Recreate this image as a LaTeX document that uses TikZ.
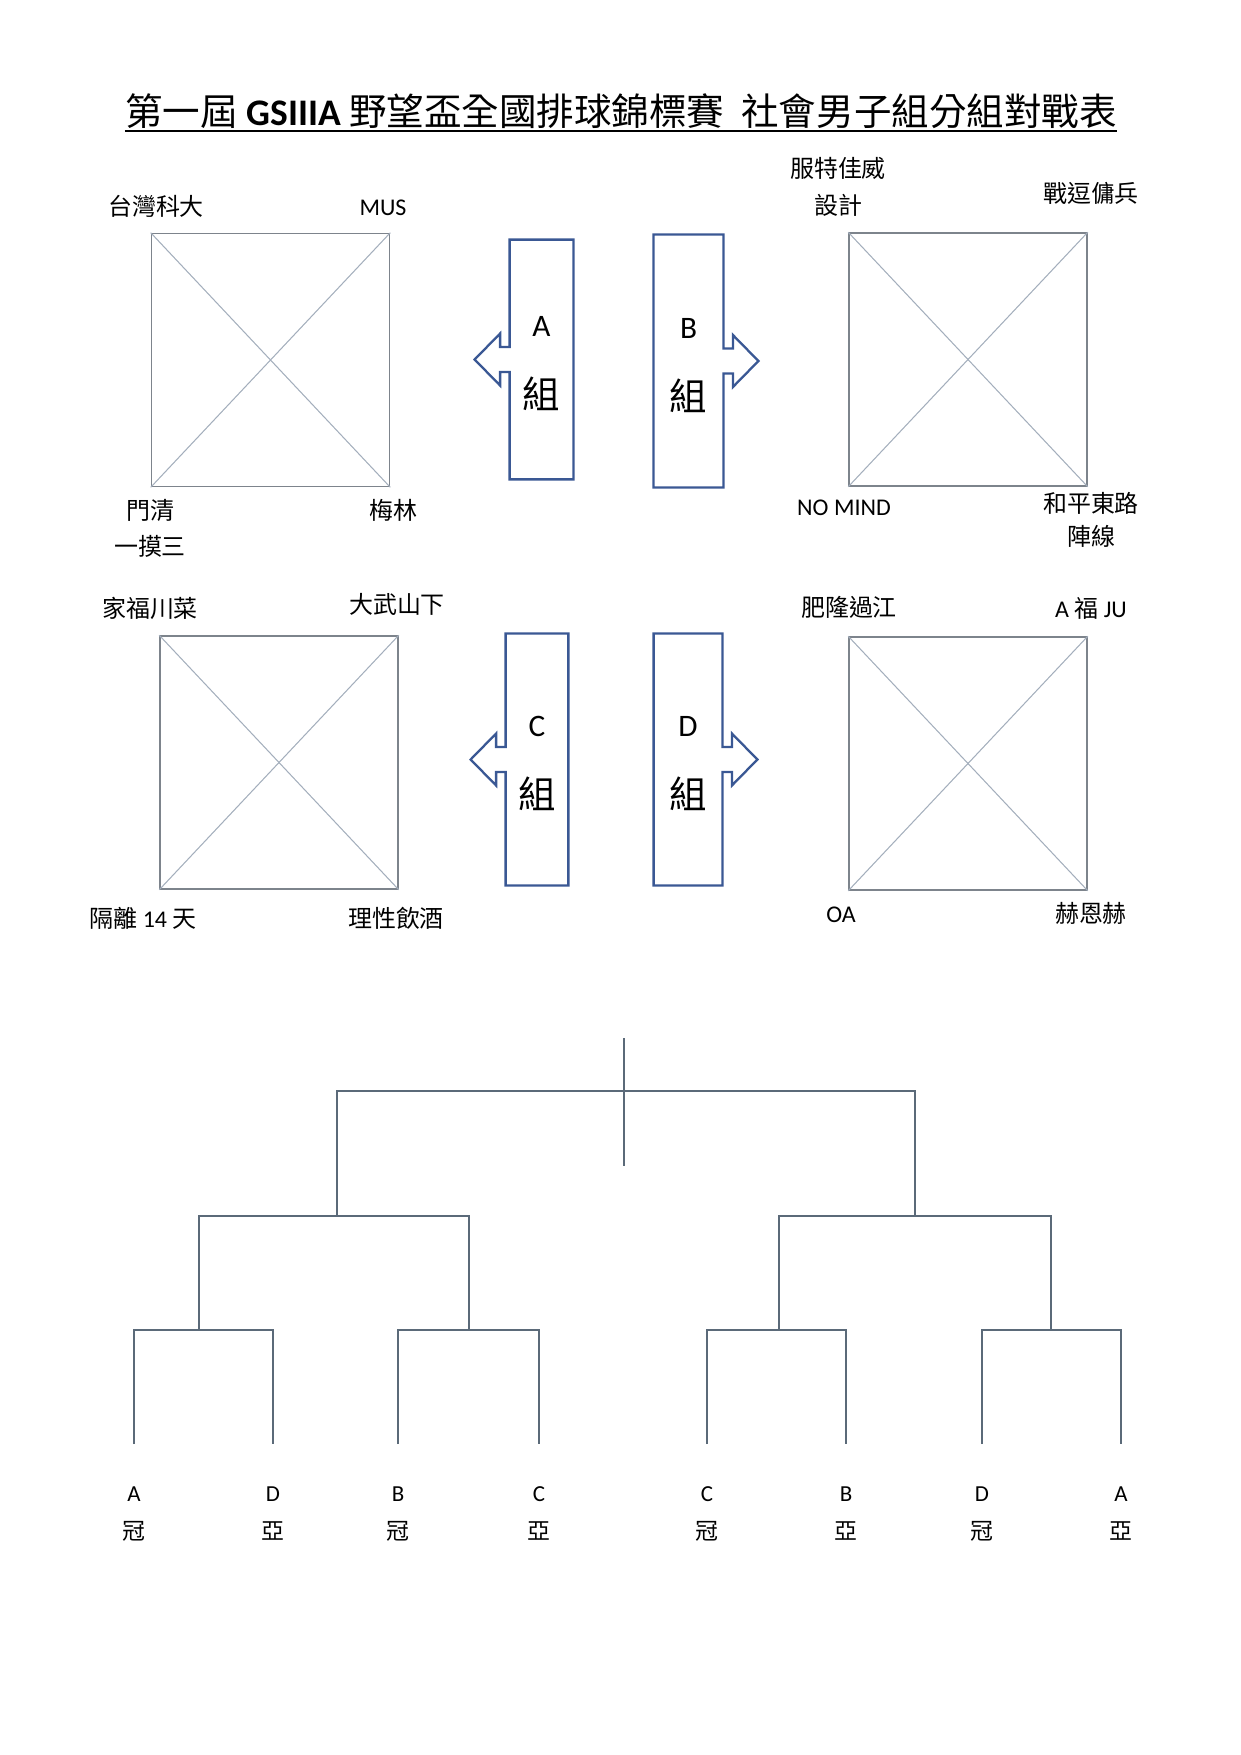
\documentclass[tikz,border=0pt]{standalone}
\usepackage{fontspec}
\setmainfont{Carlito}
\newfontfamily\cjk{Noto Sans CJK TC}
\usetikzlibrary{calc}
\definecolor{courtD}{HTML}{7D848C}
\definecolor{diagD}{HTML}{A3AEBC}
\definecolor{grpD}{HTML}{3A5894}
\definecolor{ink}{HTML}{5B6A79}
\tikzset{
  court/.style={draw=courtD, line width=0.75pt, inner sep=0pt,
                minimum width=114.2pt, minimum height=121.4pt},
  diag/.style={draw=diagD, line width=0.5pt},
  grp/.style={draw=grpD, line width=1.1pt, line join=miter},
  grpbox/.style={inner sep=0pt},
  grpletter/.style={font=\fontsize{15}{18}\selectfont, inner sep=0pt,
                    text height=9.7pt, text depth=0pt},
  grpchar/.style={font=\cjk\fontsize{18}{22}\selectfont, inner sep=0pt,
                  text height=14.4pt, text depth=3.6pt},
  team/.style={font=\fontsize{11.5}{13}\selectfont, inner sep=0pt,
               text height=9.2pt, text depth=2.3pt},
  seed/.style={font=\fontsize{11}{13}\selectfont, inner sep=0pt,
               text height=8.8pt, text depth=2.2pt},
  bracket/.style={draw=ink, line width=0.65pt},
}
\begin{document}
\begin{tikzpicture}[x=0.4797pt, y=-0.4797pt]
  \useasboundingbox (0,0) rectangle (1241,1755);

  % ---------------------------------------------------------- title
  \node[anchor=base, inner sep=0pt, font=\fontsize{18}{22}\selectfont] (title)
    at (621,125.5) {{\cjk 第一屆} \textbf{GSIIIA} {\cjk 野望盃全國排球錦標賽}\ \ {\cjk 社會男子組分組對戰表}};
  \draw[line width=1.2pt] ($(title.base west)+(0,5.5)$) -- ($(title.base east)+(0,5.5)$);

  % ---------------------------------------------------------- courts
  \node[court] (ctA) at (270.5,360) {};
  \node[court] (ctB) at (968,359.5) {};
  \node[court] (ctC) at (279,762.5) {};
  \node[court] (ctD) at (968,763.5) {};
  \foreach \c in {ctA,ctB,ctC,ctD} {
    \draw[diag] (\c.north west) -- (\c.south east);
    \draw[diag] (\c.south west) -- (\c.north east);
  }

  % group A teams
  \node[team] (a1) at (156,208) {\cjk 台灣科大};
  \node[team] (a2) at (383,208) {MUS};
  \node[team] (a3) at (150,512) {\cjk 門清};
  \node[team] (a3b) at (150,548) {\cjk 一摸三};
  \node[team] (a4) at (393,512) {\cjk 梅林};
  % group B teams
  \node[team] (b1) at (838,170) {\cjk 服特佳威};
  \node[team] (b1b) at (838,207) {\cjk 設計};
  \node[team] (b2) at (1091,195) {\cjk 戰逗傭兵};
  \node[team] (b3) at (844,508) {NO MIND};
  \node[team] (b4) at (1091,505) {\cjk 和平東路};
  \node[team] (b4b) at (1091,538) {\cjk 陣線};
  % group C teams
  \node[team] (c1) at (150,610) {\cjk 家福川菜};
  \node[team] (c2) at (397,606) {\cjk 大武山下};
  \node[team] (c3) at (143,920) {{\cjk 隔離} 14 {\cjk 天}};
  \node[team] (c4) at (396,920) {\cjk 理性飲酒};
  % group D teams
  \node[team] (d1) at (849,609) {\cjk 肥隆過江};
  \node[team] (d2) at (1091,610) {A {\cjk 福} JU};
  \node[team] (d3) at (841,915) {OA};
  \node[team] (d4) at (1091,915) {\cjk 赫恩赫};

  % ---------------------------------------------------------- group arrows
  \node[grpbox, minimum width=30.2pt, minimum height=114.6pt] (gA) at (541.5,359.5) {};
  \node[grpbox, minimum width=33.1pt, minimum height=120.9pt] (gB) at (688.5,361) {};
  \node[grpbox, minimum width=29.7pt, minimum height=120.4pt] (gC) at (537,759.5) {};
  \node[grpbox, minimum width=32.6pt, minimum height=120.4pt] (gD) at (688,759.5) {};
  \foreach \g/\near/\far/\s in {gA/west/east/-1, gC/west/east/-1,
                                gB/east/west/1, gD/east/west/1}
    \draw[grp] ($(\g.\near)+(0,-12.5)$) -- (\g.north \near) -- (\g.north \far)
      -- (\g.south \far) -- (\g.south \near) -- ($(\g.\near)+(0,12.5)$)
      -- ++(\s*9.5,0) -- ++(0,13.5) -- ($(\g.\near)+(\s*35,0)$)
      -- ($(\g.\near)+(\s*9.5,-26)$) -- ++(0,13.5) -- cycle;
  \foreach \g/\l in {gA/A, gB/B, gC/C, gD/D} {
    \node[grpletter] (\g l) at ($(\g)+(0,-33)$) {\l};
    \node[grpchar] (\g c) at ($(\g)+(0,38)$) {\cjk 組};
  }

  % ---------------------------------------------------------- bracket
  \foreach \x [count=\i] in {134,273,398,539,707,846,982,1121}
    \coordinate (leaf\i) at (\x,1444);
  \foreach \x [count=\i] in {199,469,779,1051}
    \coordinate (semi\i) at (\x,1330);
  \coordinate (fin1) at (337,1216);
  \coordinate (fin2) at (915,1216);
  \coordinate (champT) at (624,1038);
  \coordinate (champB) at (624,1166);

  \foreach \a/\b in {1/2,3/4,5/6,7/8}
    \draw[bracket] (leaf\a) -- ++(0,-114) -| (leaf\b);
  \foreach \a/\b in {1/2,3/4}
    \draw[bracket] (semi\a) -- ++(0,-114) -| (semi\b);
  \draw[bracket] (fin1) -- ++(0,-125) -| (fin2);
  \draw[bracket] (champT) -- (champB);

  \foreach \g/\r [count=\i] in {A/冠, D/亞, B/冠, C/亞, C/冠, B/亞, D/冠, A/亞} {
    \node[seed] (sg\i) at ($(leaf\i)+(0,51)$) {\g};
    \node[seed] (sr\i) at ($(leaf\i)+(0,89)$) {\cjk \r};
  }
\end{tikzpicture}
\end{document}
